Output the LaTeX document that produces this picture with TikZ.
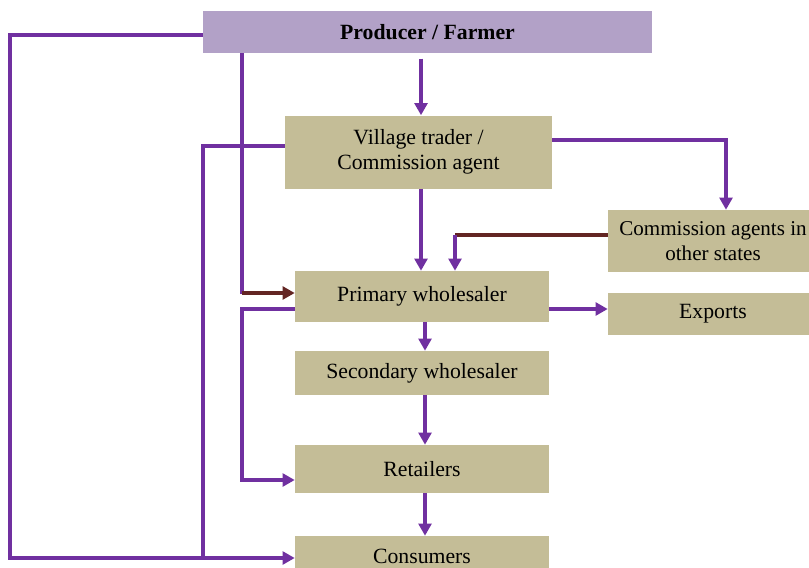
\documentclass[tikz,border=0pt]{standalone}
\usepackage{fontspec}
\setmainfont{Liberation Serif}
\usetikzlibrary{arrows.meta}
\definecolor{lpurple}{HTML}{7030A0}
\definecolor{lbrown}{HTML}{632523}
\definecolor{ltan}{HTML}{C4BD97}
\definecolor{llilac}{HTML}{B2A1C7}
\begin{document}
\begin{tikzpicture}[x=0.75pt,y=-0.75pt,
  box/.style 2 args={fill=ltan,draw=none,inner sep=0pt,align=center,
    minimum width={#1*0.75pt},minimum height={#2*0.75pt},
    font=\fontsize{16.3}{19.2}\selectfont},
  pline/.style={draw=lpurple,line width=2.3pt},
  bline/.style={draw=lbrown,line width=2.3pt},
  arr/.style={pline,-{Triangle[length=9pt,width=9.5pt]}},
  barr/.style={bline,-{Triangle[length=9pt,width=9.5pt]}}]
\useasboundingbox (0,0) rectangle (809,567);
% nodes
\node[box={449}{42},fill=llilac,font=\fontsize{16.3}{19.2}\selectfont\bfseries] (prod) at (427.5,32) {Producer / Farmer};
\node[box={267}{73}] (vt) at (418.5,152) {Village trader /\\Commission agent};
\node[box={210}{62},font=\fontsize{15.8}{19}\selectfont] (ca) at (713,241) {Commission agents in\\other states};
\node[box={210}{42}] (ex) at (713,314) {Exports};
\node[box={254}{51}] (pw) at (422,296.5) {Primary wholesaler};
\node[box={254}{44}] (sw) at (422,373) {Secondary wholesaler};
\node[box={254}{48}] (rt) at (422,469) {Retailers};
\node[box={254}{40}] (cs) at (422,556) {Consumers};
% background fix for moved boxes (keep edges at reference positions)
% helper coordinates
\coordinate (xA) at (421,0);
\coordinate (xB) at (425,0);
\coordinate (c3) at (726,140);
\coordinate (c4) at (455,235);
\coordinate (c5) at (10,35);
\coordinate (c5b) at (10,558);
\coordinate (c6) at (242,293);
\coordinate (c7) at (203,146);
\coordinate (c8) at (242,309);
\coordinate (c8b) at (242,480);
\coordinate (c9) at (560,309);
% connectors
\draw[arr,shorten <=4pt] (prod.south -| xA) -- (vt.north -| xA);
\draw[arr] (vt.south -| xA) -- (pw.north -| xA);
\draw[arr] (vt.east |- c3) -| (ca.north -| c3);
\draw[bline] (ca.west |- c4) -- (c4);
\draw[arr] (c4) -- (pw.north -| c4);
\draw[arr] (prod.west |- c5) -- (c5) -- (c5b) -- (cs.west |- c5b);
\draw[pline] (prod.south -| c6) -- ([yshift=-1pt]c6);
\draw[barr] (c6) -- (pw.west |- c6);
\draw[pline] (vt.west |- c7) -- (c7) -- (c7 |- c5b);
\draw[arr] (pw.west |- c8) -- (c8) -- (c8b) -- (rt.west |- c8b);
\draw[arr] (pw.east |- c9) -- (ex.west |- c9);
\draw[arr] (pw.south -| xB) -- (sw.north -| xB);
\draw[arr] (sw.south -| xB) -- (rt.north -| xB);
\draw[arr] (rt.south -| xB) -- (cs.north -| xB);
\end{tikzpicture}
\end{document}
